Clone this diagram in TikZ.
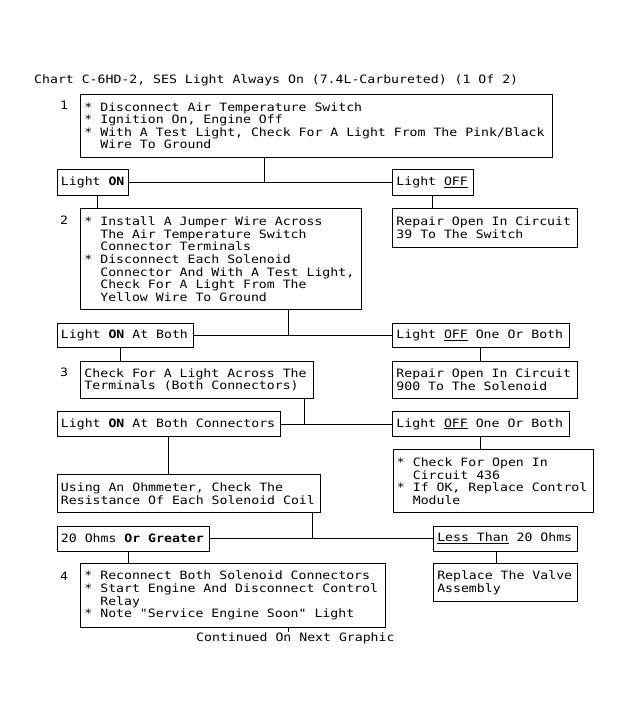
\documentclass[tikz,border=0pt]{standalone}
\usepackage{fontspec}
\setmainfont[FakeStretch=1.146, Ligatures=TeXOff]{DejaVu Sans Mono}
\newcommand\ind{\hphantom{00}}
\newcommand\bul{*\ }
\newcommand\monofont{\fontsize{11.5}{12.6}\selectfont}
\newcommand\fixspace{\spaceskip=\fontcharwd\font`\0\relax\xspaceskip=\spaceskip}
\begin{document}
\begin{tikzpicture}[x=1pt,y=-1pt,
  font=\monofont,
  execute at begin node={\fixspace},
  box/.style={draw, line width=0.9pt, inner xsep=4pt, inner ysep=0pt, anchor=north west, align=left},
  lbl/.style={inner sep=0pt},
  conn/.style={line width=0.9pt}]
\useasboundingbox (0,0) rectangle (631,721);
\fill[white] (0,0) rectangle (631,721);

\node[lbl, anchor=west] (title) at (34,80) {Chart C-6HD-2, SES Light Always On (7.4L-Carbureted) (1 Of 2)};

% step 1
\node[lbl] (n1) at (64,105.7) {1};
\node[box, text width=464pt, minimum height=63.5pt] (b1) at (80,93.5)
  {\bul Disconnect Air Temperature Switch\\
   \bul Ignition On, Engine Off\\
   \bul With A Test Light, Check For A Light From The Pink/Black\\
   \ind Wire To Ground};
\node[box, text width=63.5pt, minimum height=25.7pt] (on1) at (56.5,169.3) {Light \textbf{ON}};
\node[box, text width=72.7pt, minimum height=25.7pt] (off1) at (392,169.3) {Light \underline{OFF}};

% step 2
\node[lbl] (n2) at (64,220) {2};
\node[box, text width=272.5pt, minimum height=100.7pt] (b2) at (80,208.3)
  {\bul Install A Jumper Wire Across\\
   \ind The Air Temperature Switch\\
   \ind Connector Terminals\\
   \bul Disconnect Each Solenoid\\
   \ind Connector And With A Test Light,\\
   \ind Check For A Light From The\\
   \ind Yellow Wire To Ground};
\node[box, text width=177pt, minimum height=38.2pt] (r1) at (392,208.3)
  {Repair Open In Circuit\\39 To The Switch};
\node[box, text width=128.3pt, minimum height=24.5pt] (on2) at (56.5,322.5) {Light \textbf{ON} At Both};
\node[box, text width=168.6pt, minimum height=24.5pt] (off2) at (392,322.5) {Light \underline{OFF} One Or Both};

% step 3
\node[lbl] (n3) at (64,372.3) {3};
\node[box, text width=225pt, minimum height=37.6pt] (b3) at (80,360.7)
  {Check For A Light Across The\\Terminals (Both Connectors)};
\node[box, text width=177pt, minimum height=37.6pt] (r2) at (392,360.7)
  {Repair Open In Circuit\\900 To The Solenoid};
\node[box, text width=215.7pt, minimum height=25pt] (on3) at (56.5,411) {Light \textbf{ON} At Both Connectors};
\node[box, text width=168.6pt, minimum height=25pt] (off3) at (392,411) {Light \underline{OFF} One Or Both};

\node[box, text width=255.5pt, minimum height=38pt] (ohm) at (56.5,474.3)
  {Using An Ohmmeter, Check The\\Resistance Of Each Solenoid Coil};
\node[box, text width=192.2pt, minimum height=63pt] (chk) at (392.5,449.3)
  {\bul Check For Open In\\
   \ind Circuit 436\\
   \bul If OK, Replace Control\\
   \ind Module};
\node[box, text width=144.5pt, minimum height=25pt] (gt) at (56.5,525.5) {20 Ohms \textbf{Or Greater}};
\node[box, text width=136.2pt, minimum height=25pt] (lt) at (432.8,525.5) {\underline{Less Than} 20 Ohms};

% step 4
\node[lbl] (n4) at (64,576) {4};
\node[box, text width=296.5pt, minimum height=63.7pt] (b4) at (80,563.3)
  {\bul Reconnect Both Solenoid Connectors\\
   \bul Start Engine And Disconnect Control\\
   \ind Relay\\
   \bul Note "Service Engine Soon" Light};
\node[box, text width=136.2pt, minimum height=37.7pt] (rep) at (432.8,563.3)
  {Replace The Valve\\Assembly};

\node[lbl, anchor=west] (cont) at (196,638.3) {Continued On Next Graphic};

% connector x positions
\coordinate (xa) at (264,0);
\coordinate (xb) at (97,0);
\coordinate (xc) at (432.5,0);
\coordinate (xd) at (288,0);
\coordinate (xe) at (120.5,0);
\coordinate (xf) at (480.4,0);
\coordinate (xg) at (304.3,0);
\coordinate (xh) at (168,0);
\coordinate (xi) at (312.5,0);
\coordinate (xj) at (128.5,0);
\coordinate (xk) at (496.6,0);
\coordinate (xl) at (288.5,0);
\coordinate (tickend) at (288.5,632);

\draw[conn] (on1.east) -- (off1.west);
\draw[conn] (b1.south -| xa) -- (on1.east -| xa);
\draw[conn] (on1.south -| xb) -- (b2.north -| xb);
\draw[conn] (off1.south -| xc) -- (r1.north -| xc);

\draw[conn] (on2.east) -- (off2.west);
\draw[conn] (b2.south -| xd) -- (on2.east -| xd);
\draw[conn] (on2.south -| xe) -- (b3.north -| xe);
\draw[conn] (off2.south -| xf) -- (r2.north -| xf);

\draw[conn] (on3.east) -- (off3.west);
\draw[conn] (b3.south -| xg) -- (on3.east -| xg);
\draw[conn] (on3.south -| xh) -- (ohm.north -| xh);
\draw[conn] (off3.south -| xf) -- (chk.north -| xf);

\draw[conn] (gt.east) -- (lt.west);
\draw[conn] (ohm.south -| xi) -- (gt.east -| xi);
\draw[conn] (gt.south -| xj) -- (b4.north -| xj);
\draw[conn] (lt.south -| xk) -- (rep.north -| xk);

\draw[conn] (b4.south -| xl) -- (tickend);
\end{tikzpicture}
\end{document}
